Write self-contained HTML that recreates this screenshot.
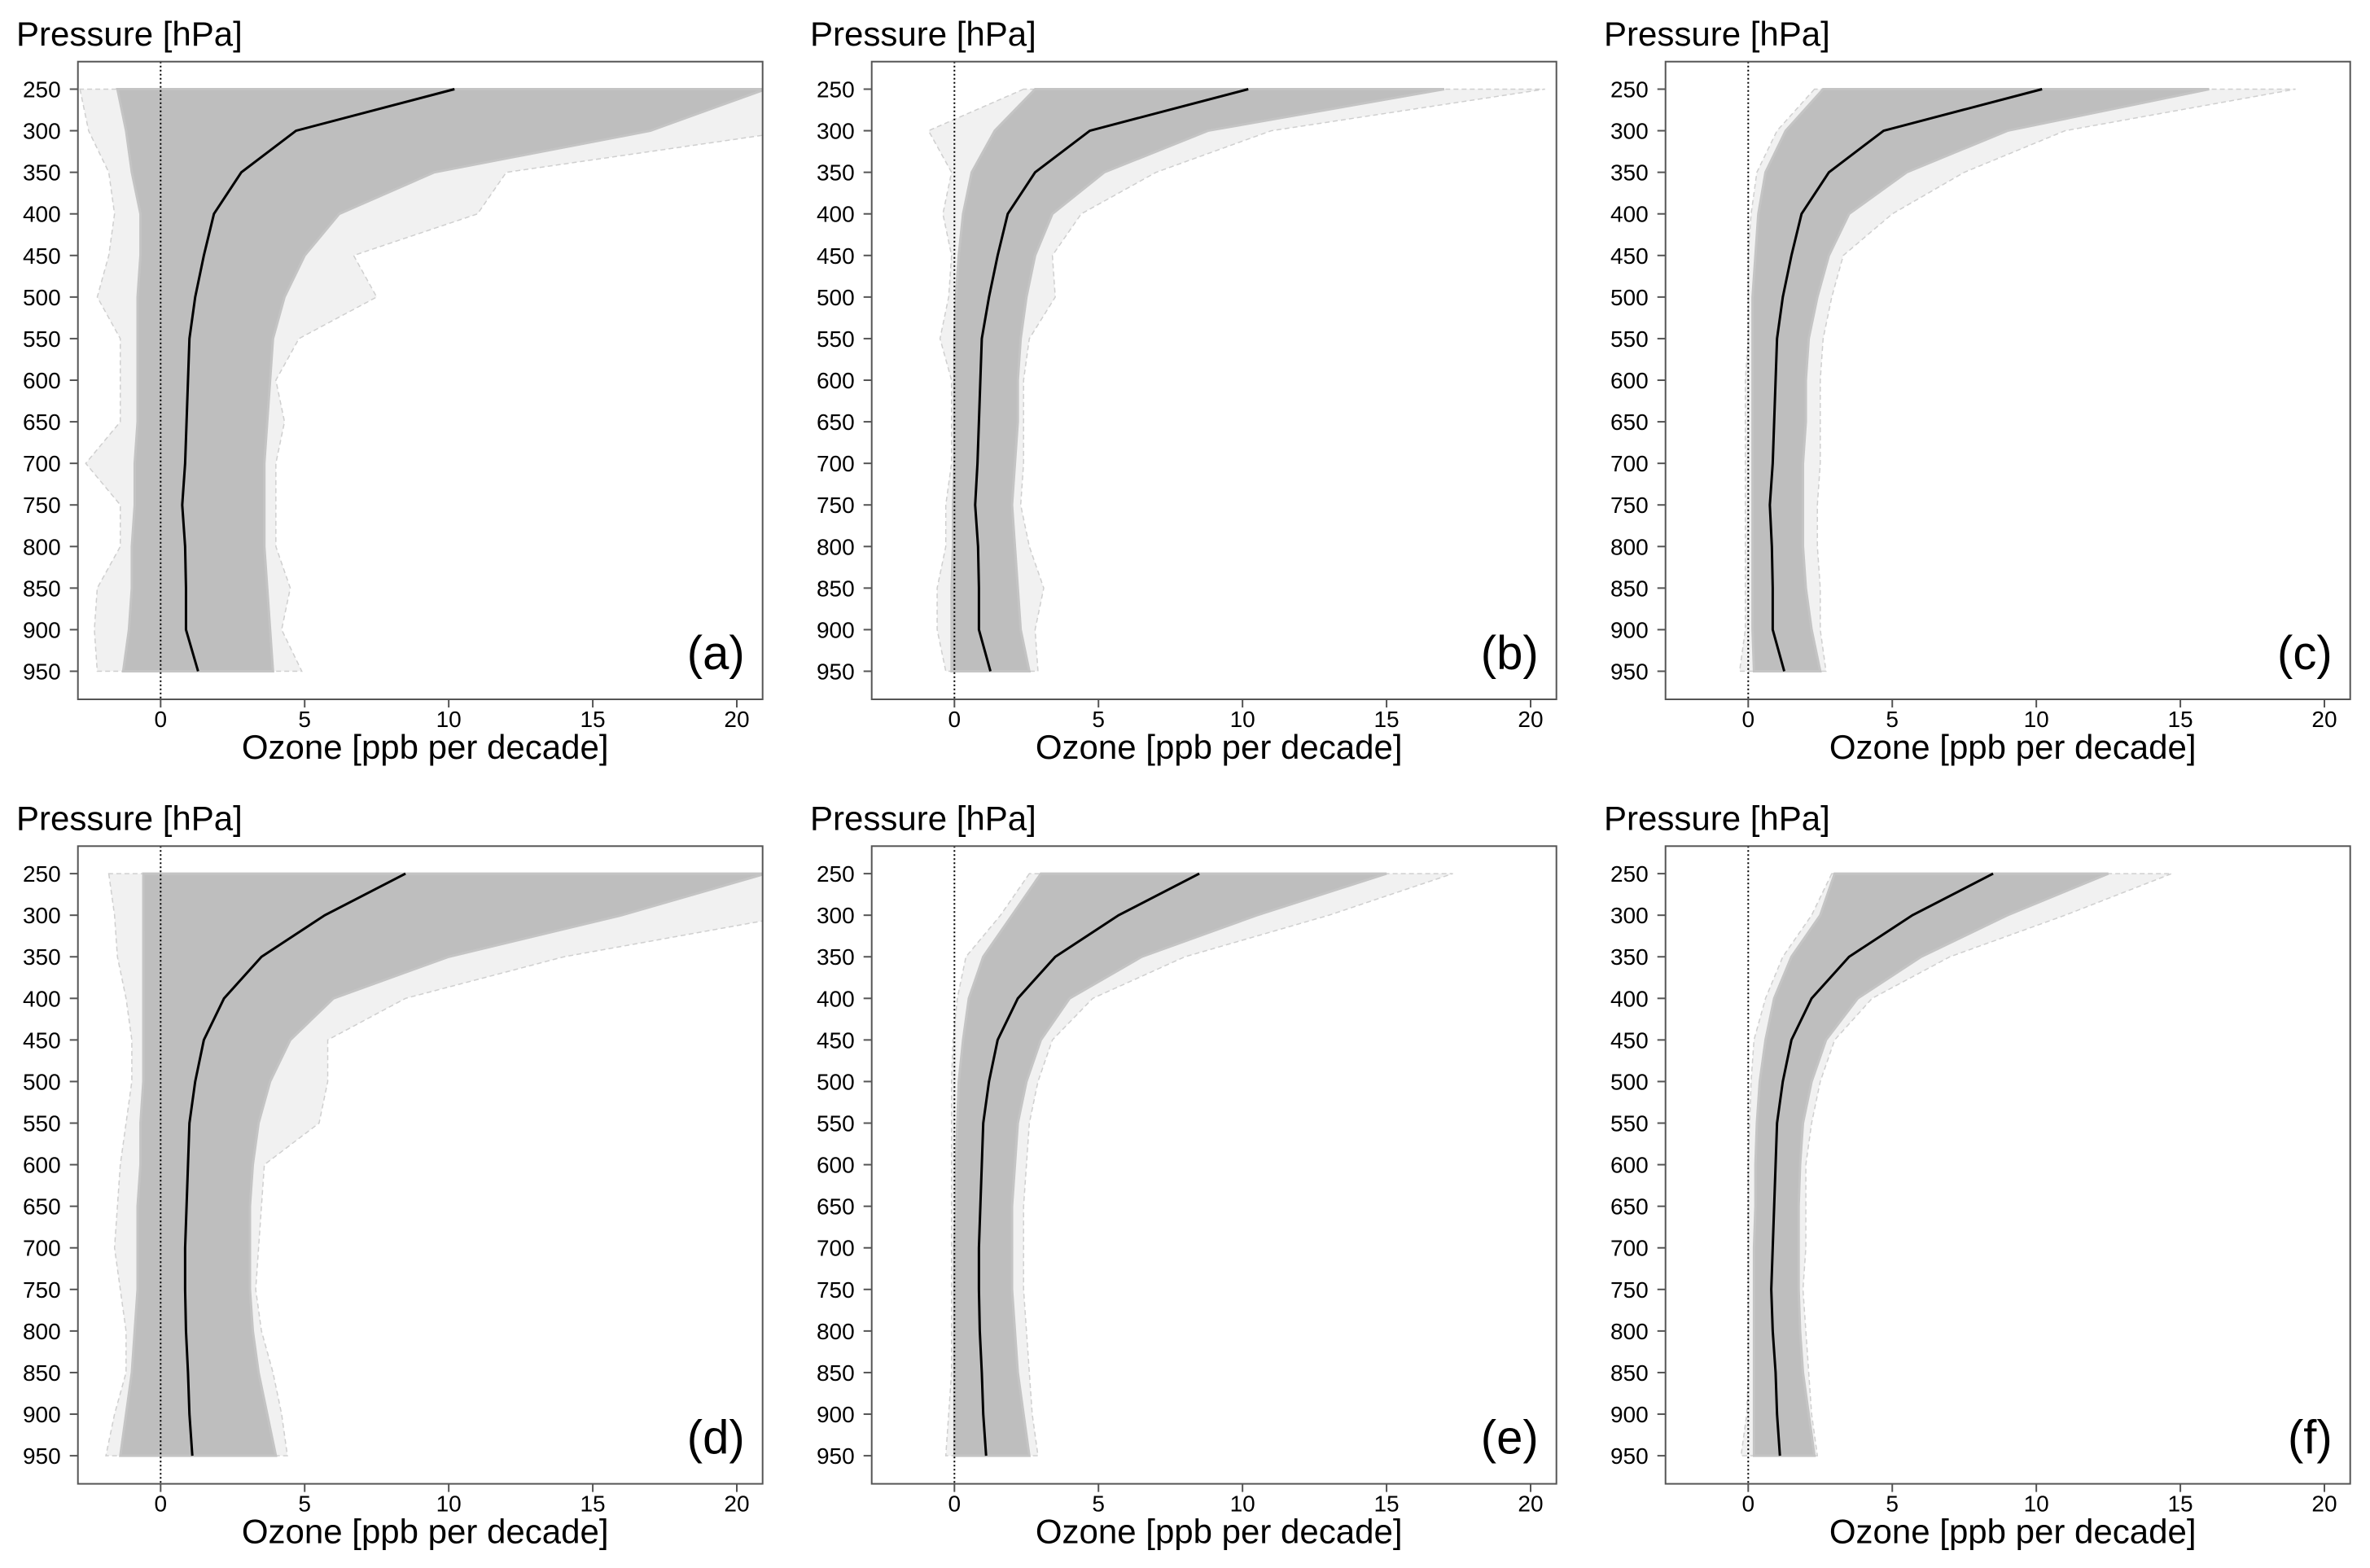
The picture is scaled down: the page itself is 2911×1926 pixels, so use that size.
<!DOCTYPE html>
<html><head><meta charset="utf-8">
<style>
html,body{margin:0;padding:0;background:#fff;}
svg{display:block;font-family:"Liberation Sans",Arial,sans-serif;}
</style></head>
<body>
<svg id="fig" width="2911" height="1926" viewBox="0 0 2911 1926" xmlns="http://www.w3.org/2000/svg"></svg>
<script>
// Pressure levels (hPa)
const levels = [250,300,350,400,450,500,550,600,650,700,750,800,850,900,950];
const yTicks = [250,300,350,400,450,500,550,600,650,700,750,800,850,900,950];
const xTicks = [0,5,10,15,20];
const panelLabels = ["(a)","(b)","(c)","(d)","(e)","(f)"];

// median profiles
const medA = [10.2,4.7,2.8,1.85,1.5,1.2,1.0,0.95,0.9,0.85,0.75,0.85,0.88,0.88,1.3];
const medB = [10.2,4.7,2.8,1.85,1.5,1.2,0.95,0.9,0.85,0.8,0.72,0.82,0.85,0.85,1.25];
const medC = [10.2,4.7,2.8,1.85,1.5,1.2,1.0,0.95,0.9,0.85,0.75,0.82,0.85,0.85,1.25];
const medD = [8.5,5.7,3.5,2.2,1.5,1.2,1.0,0.95,0.9,0.85,0.85,0.88,0.95,1.0,1.1];
const medE = [8.5,5.7,3.5,2.2,1.5,1.2,1.0,0.95,0.9,0.85,0.85,0.88,0.95,1.0,1.1];
const medF = [8.5,5.7,3.5,2.2,1.5,1.2,1.0,0.95,0.9,0.85,0.8,0.85,0.95,1.0,1.1];

// dense ensemble core (lower / upper)
const loA = [-1.5,-1.2,-1.0,-0.7,-0.7,-0.8,-0.8,-0.8,-0.8,-0.9,-0.9,-1.0,-1.0,-1.1,-1.3];
const hiA = [21,17,9.5,6.2,5.0,4.3,3.9,3.8,3.7,3.6,3.6,3.6,3.7,3.8,3.9];
const loB = [2.8,1.4,0.6,0.3,0.15,0.05,0.0,0.0,0.0,0.0,-0.05,-0.05,-0.1,-0.1,-0.1];
const hiB = [17,8.8,5.2,3.4,2.8,2.5,2.3,2.2,2.2,2.1,2.0,2.1,2.2,2.3,2.6];
const loC = [2.6,1.3,0.6,0.35,0.25,0.15,0.15,0.15,0.15,0.15,0.15,0.15,0.15,0.15,0.2];
const hiC = [16,9.0,5.5,3.5,2.8,2.4,2.1,2.0,2.0,1.9,1.9,1.9,2.0,2.2,2.5];
const loD = [-0.6,-0.6,-0.6,-0.6,-0.6,-0.6,-0.7,-0.7,-0.8,-0.8,-0.8,-0.9,-1.0,-1.2,-1.4];
const hiD = [21,16,10,6.0,4.5,3.8,3.4,3.2,3.1,3.1,3.1,3.2,3.4,3.7,4.0];
const loE = [3.0,2.0,1.0,0.5,0.3,0.15,0.1,0.05,0.05,0.0,0.0,0.0,0.0,0.0,0.0];
const hiE = [15,10.5,6.5,4.0,3.0,2.5,2.2,2.1,2.0,2.0,2.0,2.1,2.2,2.4,2.6];
const loF = [3.0,2.5,1.5,0.9,0.6,0.4,0.3,0.25,0.25,0.2,0.2,0.2,0.2,0.2,0.2];
const hiF = [12.5,9.0,6.0,3.8,2.7,2.2,1.9,1.8,1.75,1.75,1.75,1.8,1.9,2.1,2.3];

// sparse outer extremes (min / max)
const minA = [-2.8,-2.5,-1.8,-1.6,-1.8,-2.2,-1.4,-1.4,-1.4,-2.6,-1.4,-1.4,-2.2,-2.3,-2.2];
const maxA = [22,22,12,11,6.7,7.5,4.8,4.0,4.3,4.0,4.0,4.0,4.5,4.2,4.9];
const minB = [2.4,-0.9,-0.1,-0.4,-0.1,-0.2,-0.5,-0.1,-0.1,-0.1,-0.3,-0.3,-0.6,-0.6,-0.3];
const maxB = [20.5,11,7.0,4.4,3.4,3.5,2.6,2.4,2.4,2.4,2.3,2.6,3.1,2.8,2.9];
const minC = [2.3,1.0,0.3,0.1,0.0,0.0,0.0,-0.1,-0.1,-0.1,-0.1,-0.1,-0.1,-0.1,-0.3];
const maxC = [19,11,7.5,5.0,3.3,2.9,2.6,2.5,2.5,2.5,2.4,2.4,2.5,2.5,2.7];
const minD = [-1.8,-1.6,-1.5,-1.2,-1.0,-1.0,-1.2,-1.4,-1.5,-1.6,-1.4,-1.2,-1.2,-1.6,-1.9];
const maxD = [22,22,14,8.5,5.8,5.8,5.5,3.6,3.5,3.4,3.3,3.5,3.9,4.2,4.4];
const minE = [2.6,1.6,0.4,0.1,-0.05,-0.1,-0.1,-0.1,-0.1,-0.1,-0.1,-0.1,-0.1,-0.2,-0.3];
const maxE = [17.3,13,8.0,4.8,3.4,2.9,2.6,2.5,2.4,2.4,2.4,2.5,2.6,2.7,2.9];
const minF = [2.9,2.2,1.2,0.6,0.2,0.1,0.05,0.0,0.0,0.0,0.0,0.0,0.0,-0.05,-0.25];
const maxF = [14.7,11,7.0,4.3,3.0,2.5,2.2,2.0,2.0,2.0,1.9,2.0,2.1,2.2,2.4];

const panels = [
  {lab:0,med:medA,lo:loA,hi:hiA,mn:minA,mx:maxA,col:0,row:0},
  {lab:1,med:medB,lo:loB,hi:hiB,mn:minB,mx:maxB,col:1,row:0},
  {lab:2,med:medC,lo:loC,hi:hiC,mn:minC,mx:maxC,col:2,row:0},
  {lab:3,med:medD,lo:loD,hi:hiD,mn:minD,mx:maxD,col:0,row:1},
  {lab:4,med:medE,lo:loE,hi:hiE,mn:minE,mx:maxE,col:1,row:1},
  {lab:5,med:medF,lo:loF,hi:hiF,mn:minF,mx:maxF,col:2,row:1}
];

const NS = "http://www.w3.org/2000/svg";
const svg = document.getElementById('fig');
function mk(tag, attrs, parent){
  const e = document.createElementNS(NS, tag);
  for (const k in attrs) e.setAttribute(k, attrs[k]);
  parent.appendChild(e);
  return e;
}
const colOff = [0, 975, 1950];
const rowOff = [0, 963.6];

panels.forEach(p => {
  const ox = colOff[p.col], oy = rowOff[p.row];
  const L = 95.7+ox, R = 936.7+ox, T = 75.7+oy, B = 859+oy;
  const xs = v => 197.3 + ox + v*(905-197.3)/20;
  const ys = pr => 109.5 + oy + (pr-250)*(824.5-109.5)/700;

  const g = mk('g', {}, svg);
  
  

  const cid = 'clip' + p.lab;
  const cp = mk('clipPath', {id: cid}, g);
  mk('rect', {x:L, y:T, width:R-L, height:B-T}, cp);
  const plot = mk('g', {'clip-path':'url(#'+cid+')'}, g);

  const polyPts = (a, b) => levels.map((l,i)=>xs(a[i])+','+ys(l)).concat(levels.slice().reverse().map((l,j)=>{const i=levels.length-1-j;return xs(b[i])+','+ys(l);})).join(' ');

  // outer extremes
  const outer = mk('polygon', {points: polyPts(p.mn, p.mx), fill:'#f1f1f1', stroke:'#cfcfcf', 'stroke-width':1.5, 'stroke-dasharray':'6 4'}, plot);
  
  

  // dense core
  const core = mk('polygon', {points: polyPts(p.lo, p.hi), fill:'#bebebe', stroke:'#c4c4c4', 'stroke-width':3}, plot);
  
  

  // zero line
  const z = mk('line', {x1:xs(0), x2:xs(0), y1:T, y2:B, stroke:'#000', 'stroke-width':2, 'stroke-dasharray':'2 3'}, g);
  
  

  // median
  const m = mk('polyline', {points: levels.map((l,i)=>xs(p.med[i])+','+ys(l)).join(' '), fill:'none', stroke:'#000', 'stroke-width':3}, plot);
  
  

  // frame
  const fr = mk('rect', {x:L, y:T, width:R-L, height:B-T, fill:'none', stroke:'#555', 'stroke-width':2}, g);
  
  

  // y ticks
  yTicks.forEach(t => {
    const tk = mk('line', {x1:L-10, x2:L, y1:ys(t), y2:ys(t), stroke:'#555', 'stroke-width':2}, g);
    
    
    const tx = mk('text', {x:L-21, y:ys(t)+10, 'text-anchor':'end', 'font-size':28, fill:'#000'}, g);
    tx.textContent = t;
    
    
  });
  // x ticks
  xTicks.forEach(t => {
    const tk = mk('line', {x1:xs(t), x2:xs(t), y1:B, y2:B+10, stroke:'#555', 'stroke-width':2}, g);
    
    
    const tx = mk('text', {x:xs(t), y:B+34, 'text-anchor':'middle', 'font-size':28, fill:'#000'}, g);
    tx.textContent = t;
    
    
  });
  // titles
  const yt = mk('text', {x:20+ox, y:56+oy, 'font-size':42, fill:'#000'}, g);
  yt.textContent = 'Pressure [hPa]';
  
  
  const xt = mk('text', {x:(L+R)/2+6, y:B+73, 'text-anchor':'middle', 'font-size':42, fill:'#000'}, g);
  xt.textContent = 'Ozone [ppb per decade]';
  
  
  const pl = mk('text', {x:R-22, y:B-37, 'text-anchor':'end', 'font-size':58, fill:'#000'}, g);
  pl.textContent = panelLabels[p.lab];
  
  
});
</script>
</body></html>
